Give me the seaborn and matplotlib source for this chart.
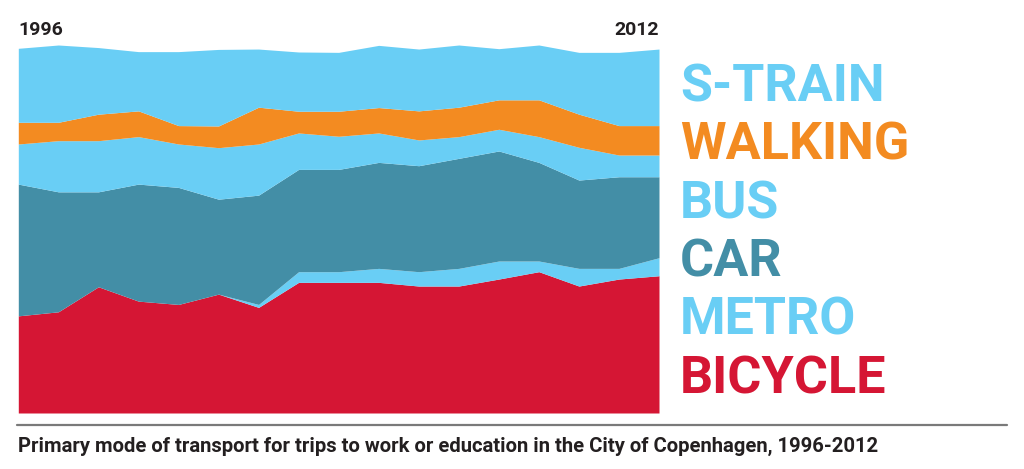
import matplotlib
matplotlib.use("Agg")
import matplotlib.pyplot as plt
import seaborn as sns
import numpy as np

years = list(range(1996, 2013))
bicycle = [26.4, 27.5, 34.3, 30.4, 29.5, 32.3, 28.7, 35.5, 35.5, 35.5, 34.5, 34.5, 36.4, 38.4, 34.5, 36.4, 37.3]
metro   = [0.0, 0.0, 0.0, 0.0, 0.0, 0.0, 0.8, 2.9, 2.9, 3.8, 3.9, 4.8, 4.9, 2.9, 4.8, 2.9, 4.9]
car     = [35.8, 32.6, 25.8, 31.8, 31.8, 25.8, 29.7, 27.8, 27.8, 28.8, 28.8, 29.9, 29.9, 26.8, 24.0, 24.9, 22.0]
bus     = [10.9, 13.9, 13.9, 12.9, 11.8, 14.0, 13.9, 9.9, 9.0, 8.0, 7.0, 5.9, 5.9, 7.0, 8.9, 5.9, 5.9]
walking = [5.9, 5.0, 7.2, 7.0, 5.0, 5.9, 10.0, 5.9, 6.8, 6.9, 7.9, 8.0, 8.0, 10.0, 9.0, 8.0, 8.0]
strain  = [20.1, 21.0, 18.1, 16.1, 20.1, 20.8, 15.8, 16.1, 16.0, 16.9, 16.8, 16.9, 13.9, 14.9, 16.8, 19.9, 20.8]

labels = ["S-TRAIN", "WALKING", "BUS", "CAR", "METRO", "BICYCLE"]

LIGHT = "#69cef5"
ORANGE = "#f38b21"
TEAL = "#438ea6"
RED = "#d51634"
label_colors = [LIGHT, ORANGE, LIGHT, TEAL, LIGHT, RED]

sns.set_theme(style="white")
plt.rcParams["font.family"] = ["Roboto", "DejaVu Sans"]

W, H = 1024, 469
fig = plt.figure(figsize=(W / 100, H / 100), dpi=100)
fig.patch.set_facecolor("white")

left, right, bottom_px, top_px = 18.3, 659, 413, 45
ax = fig.add_axes([left / W, 1 - bottom_px / H, (right - left) / W, (bottom_px - top_px) / H])
ax.stackplot(years, bicycle, metro, car, bus, walking, strain,
             colors=[RED, LIGHT, TEAL, LIGHT, ORANGE, LIGHT], linewidth=0)
ax.set_xlim(years[0], years[-1])
ax.set_ylim(0, 100)
ax.axis("off")

def fx(x):
    return x / W

def fy(y):
    return 1 - y / H

# year labels
fig.text(fx(18.3), fy(35.3), str(years[0]), fontsize=14, fontweight="bold",
         color="#231f20", ha="left", va="baseline")
fig.text(fx(659), fy(35.3), str(years[-1]), fontsize=14, fontweight="bold",
         color="#231f20", ha="right", va="baseline")

# legend labels
for k, (lab, col) in enumerate(zip(labels, label_colors)):
    fig.text(fx(680), fy(101.5 + 58.3 * k), lab, fontsize=37.5, fontweight="bold",
             color=col, ha="left", va="baseline")

# separator line
fig.add_artist(plt.Line2D([fx(17.3), fx(1006.7)], [fy(425), fy(425)],
                          color="#7a7a7a", linewidth=1.6))

fig.text(fx(18.3), fy(451.7),
         "Primary mode of transport for trips to work or education in the City of Copenhagen, 1996-2012",
         fontsize=14.6, fontweight="bold", color="#231f20", ha="left", va="baseline")

fig.savefig("out.png", dpi=100, facecolor="white")
